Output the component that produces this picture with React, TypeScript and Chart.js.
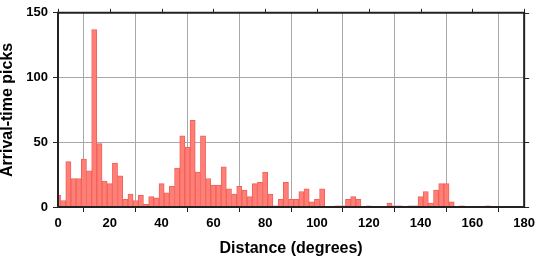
import React, { useEffect, useRef } from "react";
import { Chart, registerables } from "chart.js";

Chart.register(...registerables);

// Bin centres (degrees), bin width 2
const binCenters: number[] = Array.from({ length: 90 }, (_, i) => i * 2);
const pickCounts: number[] = [
  9, 5, 35, 22, 22, 37, 28, 137, 49, 20,
  18, 34, 24, 6, 10, 5, 9, 2, 8, 7,
  18, 11, 16, 30, 55, 46, 67, 27, 55, 22,
  17, 17, 31, 14, 10, 16, 13, 8, 18, 19,
  27, 10, 1, 6, 19, 6, 6, 12, 14, 4,
  6, 14, 0, 0, 1, 1, 6, 8, 6, 0,
  1, 0, 0, 0, 3, 1, 1, 0, 1, 1,
  8, 12, 3, 13, 18, 18, 4, 0, 1, 0,
  0, 0, 0, 1, 0, 0, 0, 0, 0, 0,
];
const xTicks = { min: 0, max: 180, step: 20 };
const yTicks = { min: 0, max: 150, step: 50 };

const FONT = "'Liberation Sans', Arial, Helvetica, sans-serif";
const AXIS = "#222";

const framePlugin = {
  id: "frame",
  afterDatasetsDraw(chart: any) {
    const { ctx, chartArea } = chart;
    const { left, right, top, bottom } = chartArea;
    const x = chart.scales.x;
    const y = chart.scales.y;
    ctx.save();
    ctx.strokeStyle = AXIS;
    ctx.lineWidth = 1;
    ctx.beginPath();
    x.ticks.forEach((t: any) => {
      const px = Math.round(x.getPixelForValue(t.value)) + 0.5;
      ctx.moveTo(px, top);
      ctx.lineTo(px, top - 4);
    });
    y.ticks.forEach((t: any) => {
      const py = Math.round(y.getPixelForValue(t.value)) + 0.5;
      ctx.moveTo(right, py);
      ctx.lineTo(right + 5, py);
    });
    ctx.stroke();
    ctx.lineWidth = 2;
    ctx.beginPath();
    ctx.rect(left, top, right - left, bottom - top);
    ctx.stroke();
    ctx.restore();
  },
};

export default function App() {
  const ref = useRef<HTMLCanvasElement | null>(null);
  useEffect(() => {
    if (!ref.current) return;
    const chart = new Chart(ref.current, {
      type: "bar",
      data: {
        datasets: [
          {
            data: binCenters.map((c, i) => ({ x: c, y: pickCounts[i] })),
            backgroundColor: "#ff7f76",
            borderColor: "#f0625a",
            borderWidth: 1,
            borderSkipped: "start",
            categoryPercentage: 1,
            barPercentage: 1,
          },
        ],
      },
      options: {
        responsive: false,
        animation: false,
        layout: { padding: { top: 6, right: 12, left: 0, bottom: 0 } },
        plugins: { legend: { display: false }, tooltip: { enabled: false } },
        scales: {
          x: {
            type: "linear",
            min: xTicks.min,
            max: xTicks.max,
            offset: false,
            ticks: {
              stepSize: xTicks.step,
              padding: 4,
              color: "#000",
              font: { family: FONT, size: 13, weight: "bold" },
              maxRotation: 0,
            },
            grid: { color: "#a8a8a8", lineWidth: 1, tickLength: 5, tickColor: AXIS },
            border: { display: false },
            title: {
              display: true,
              text: "Distance (degrees)",
              color: "#000",
              font: { family: FONT, size: 16, weight: "bold", lineHeight: 1 },
              padding: { top: 0, bottom: 1 },
            },
            afterFit: (s: any) => {
              s.height = 51;
            },
          },
          y: {
            min: yTicks.min,
            max: yTicks.max,
            ticks: {
              stepSize: yTicks.step,
              padding: 5,
              color: "#000",
              font: { family: FONT, size: 13, weight: "bold" },
            },
            grid: { color: "#a8a8a8", lineWidth: 1, tickLength: 5, tickColor: AXIS },
            border: { display: false },
            title: {
              display: true,
              text: "Arrival-time picks",
              color: "#000",
              font: { family: FONT, size: 16, weight: "bold", lineHeight: 1 },
              padding: { top: 0, bottom: 0 },
            },
            afterFit: (s: any) => {
              s.width = 58;
            },
          },
        },
      },
      plugins: [framePlugin],
    });
    return () => chart.destroy();
  }, []);
  return (
    <div style={{ position: "absolute", left: 0, top: 0, width: 539, height: 258, background: "#fff" }}>
      <canvas ref={ref} width={539} height={258} />
    </div>
  );
}
